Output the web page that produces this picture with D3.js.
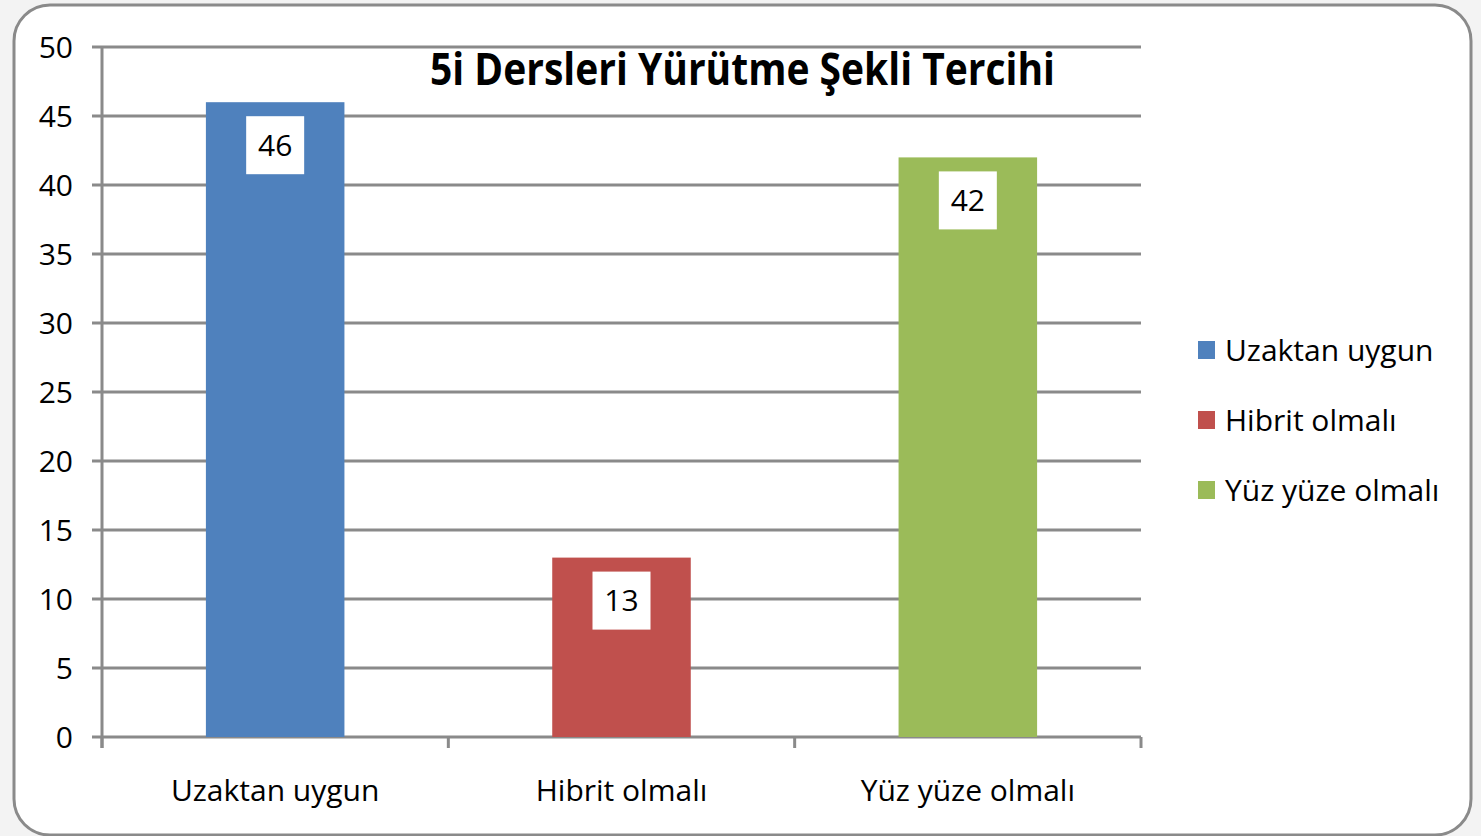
<!DOCTYPE html>
<html>
<head>
<meta charset="utf-8">
<script src="https://cdn.jsdelivr.net/npm/d3@7"></script>
<style>
  body { margin: 0; background: #f3f3f3; }
  svg { display: block; }
  text { font-family: "Open Sans", sans-serif; fill: #000; }
</style>
</head>
<body>
<svg id="chart" width="1481" height="836"></svg>
<script>
const categories = ['Uzaktan uygun', 'Hibrit olmalı', 'Yüz yüze olmalı']
const values = [46, 13, 42]
const colors = ['#4f81bd', '#c0504d', '#9bbb59']
const yTicks = [0, 5, 10, 15, 20, 25, 30, 35, 40, 45, 50]
const title = '5i Dersleri Yürütme Şekli Tercihi'

const svg = d3.select('#chart')
const grid = '#8a8a8a'

// frame
svg.append('rect')
  .attr('x', 14).attr('y', 5)
  .attr('width', 1457).attr('height', 830)
  .attr('rx', 36).attr('ry', 36)
  .attr('fill', '#fff')
  .attr('stroke', '#8a8a8a')
  .attr('stroke-width', 3)

const x = d3.scaleBand().domain(categories).range([102, 1141]).paddingInner(0).paddingOuter(0)
const y = d3.scaleLinear().domain([0, 50]).range([737, 47])

// gridlines + y ticks
svg.append('g').selectAll('line')
  .data(yTicks)
  .enter()
  .append('line')
  .attr('x1', 92).attr('x2', 1141)
  .attr('y1', function (d) { return y(d) })
  .attr('y2', function (d) { return y(d) })
  .attr('stroke', grid)
  .attr('stroke-width', 3)

svg.append('g').selectAll('text')
  .data(yTicks)
  .enter()
  .append('text')
  .attr('x', 73)
  .attr('y', function (d) { return y(d) })
  .attr('dy', '0.36em')
  .attr('text-anchor', 'end')
  .style('font-size', '30px')
  .text(function (d) { return d })

// y axis line
svg.append('line')
  .attr('x1', 102).attr('x2', 102)
  .attr('y1', y(50)).attr('y2', 748)
  .attr('stroke', grid).attr('stroke-width', 3)

// x ticks
const xTickPos = categories.map(function (c) { return x(c) }).concat([x.range()[1]])
svg.append('g').selectAll('line')
  .data(xTickPos)
  .enter()
  .append('line')
  .attr('x1', function (d) { return d }).attr('x2', function (d) { return d })
  .attr('y1', y(0)).attr('y2', 748)
  .attr('stroke', grid).attr('stroke-width', 3)

// bars
const barW = x.bandwidth() * 0.4
svg.append('g').selectAll('rect')
  .data(values)
  .enter()
  .append('rect')
  .attr('x', function (d, i) { return x(categories[i]) + (x.bandwidth() - barW) / 2 })
  .attr('y', function (d) { return y(d) })
  .attr('width', barW)
  .attr('height', function (d) { return y(0) - y(d) })
  .attr('fill', function (d, i) { return colors[i] })

// value labels
const lbl = svg.append('g').selectAll('g')
  .data(values)
  .enter()
  .append('g')
  .attr('transform', function (d, i) {
    return 'translate(' + (x(categories[i]) + x.bandwidth() / 2) + ',' + (y(d) + 43) + ')'
  })
lbl.append('rect')
  .attr('x', -29).attr('y', -29)
  .attr('width', 58).attr('height', 58)
  .attr('fill', '#fff')
lbl.append('text')
  .attr('text-anchor', 'middle')
  .attr('dy', '0.36em')
  .style('font-size', '30px')
  .text(function (d) { return d })

// category labels
svg.append('g').selectAll('text')
  .data(categories)
  .enter()
  .append('text')
  .attr('x', function (d) { return x(d) + x.bandwidth() / 2 })
  .attr('y', 801)
  .attr('text-anchor', 'middle')
  .style('font-size', '30px')
  .text(function (d) { return d })

// title
svg.append('text')
  .attr('x', 430).attr('y', 85)
  .attr('textLength', 625)
  .attr('lengthAdjust', 'spacingAndGlyphs')
  .style('font-size', '44px')
  .style('font-weight', 'bold')
  .text(title)

// legend
const leg = svg.append('g').selectAll('g')
  .data(categories)
  .enter()
  .append('g')
  .attr('transform', function (d, i) { return 'translate(1198,' + (350 + i * 70) + ')' })
leg.append('rect')
  .attr('x', 0).attr('y', -9)
  .attr('width', 17).attr('height', 18)
  .attr('fill', function (d, i) { return colors[i] })
leg.append('text')
  .attr('x', 27)
  .attr('dy', '0.36em')
  .style('font-size', '30px')
  .text(function (d) { return d })
</script>
</body>
</html>
